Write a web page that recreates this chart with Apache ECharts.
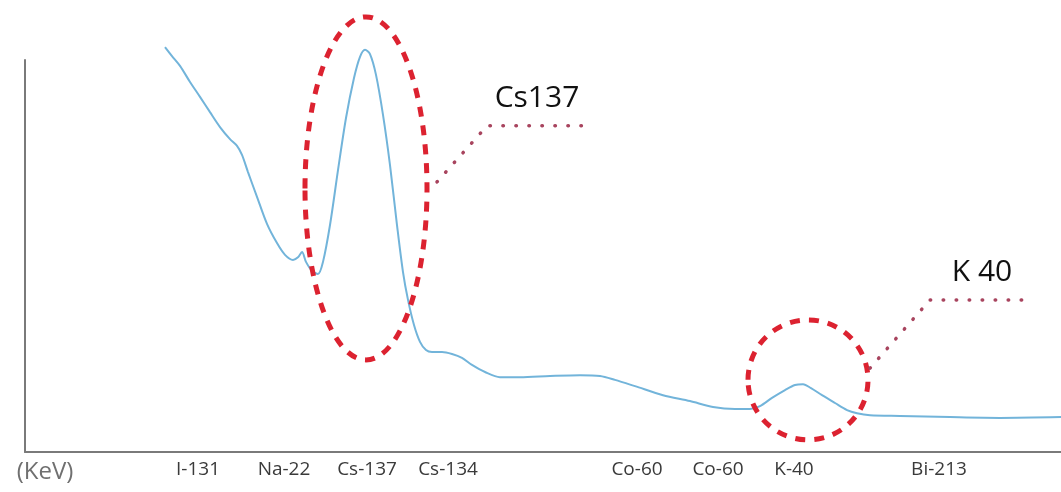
<!DOCTYPE html>
<html>
<head>
<meta charset="utf-8">
<style>
  html, body { margin: 0; padding: 0; background: #fff; }
  #chart { width: 1061px; height: 492px; }
</style>
<script src="https://cdn.jsdelivr.net/npm/echarts@6/dist/echarts.min.js"></script>
</head>
<body>
<div id="chart"></div>
<script>
// Gamma spectrum: detector channel vs. counts
const channels = [140, 147, 155, 165, 175, 185, 195, 205, 212, 217, 223, 232, 242, 252, 260, 268, 273, 277, 281, 287, 293, 298, 305, 313, 321, 329, 335, 340, 345, 351, 358, 365, 372, 378, 383, 389, 395, 401, 407, 417, 427, 437, 447, 460, 475, 495, 525, 555, 575, 590, 610, 638, 665, 688, 710, 725, 735, 747, 760, 770, 778, 786, 797, 810, 822, 832, 845, 875, 925, 975, 1036];
const counts = [1033, 1010, 985, 944, 906, 867, 829, 798, 781, 758, 714, 651, 582, 533, 503, 490, 497, 510, 485, 462, 454, 485, 579, 719, 852, 954, 1008, 1026, 1015, 962, 860, 732, 579, 459, 388, 324, 281, 260, 255, 255, 250, 240, 222, 204, 191, 191, 194, 196, 194, 184, 168, 145, 130, 115, 110, 110, 117, 138, 158, 171, 173, 163, 145, 125, 107, 99, 94, 92, 89, 87, 89];

// Nuclide markers along the energy axis
const tickChannels = [20, 173, 259, 342, 423, 612, 693, 769, 914];
const tickLabels = ['(KeV)', 'I-131', 'Na-22', 'Cs-137', 'Cs-134', 'Co-60', 'Co-60', 'K-40', 'Bi-213'];

// Highlighted peaks: [chMin, chMax, countMin, countMax]
const cs137Region = [280, 402, 235, 1110];
const cs137Leader = [[412, 689], [462, 832], [568, 832]];
const cs137Text = [512, 903];
const cs137Name = 'Cs137';

const k40Region = [723, 843, 31, 337];
const k40Leader = [[845, 214], [905, 388], [1008, 388]];
const k40Text = [957, 457];
const k40Name = 'K 40';

const chart = echarts.init(document.getElementById('chart'));

const lineData = channels.map((c, i) => [c, counts[i]]);

chart.setOption({
  animation: false,
  backgroundColor: '#ffffff',
  grid: { left: 25, right: 0, top: 60, bottom: 40 },
  xAxis: {
    type: 'value',
    min: 0,
    max: 1036,
    axisLine: { show: true, lineStyle: { color: '#7a7a7a', width: 2 } },
    axisTick: { show: false },
    splitLine: { show: false },
    axisLabel: {
      customValues: tickChannels,
      margin: 8,
      color: '#3a3a3a',
      fontFamily: 'Open Sans',
      fontSize: 19,
      formatter: function (v) {
        const i = tickChannels.indexOf(v);
        const t = i >= 0 ? tickLabels[i] : '';
        return i === 0 ? '{unit|' + t + '}' : t;
      },
      rich: {
        unit: { fontSize: 24, color: '#707070', fontFamily: 'Open Sans' }
      }
    }
  },
  yAxis: {
    type: 'value',
    min: 0,
    max: 1000,
    axisLine: { show: true, lineStyle: { color: '#7a7a7a', width: 2 } },
    axisTick: { show: false },
    axisLabel: { show: false },
    splitLine: { show: false }
  },
  series: [{
    type: 'line',
    data: lineData,
    smooth: 0.3,
    clip: false,
    showSymbol: false,
    lineStyle: { color: '#72b4da', width: 2 }
  }]
});

function px(p) { return chart.convertToPixel({ gridIndex: 0 }, p); }

function regionEllipse(r) {
  const a = px([r[0], r[2]]);
  const b = px([r[1], r[3]]);
  return {
    type: 'ellipse',
    shape: { cx: (a[0] + b[0]) / 2, cy: (a[1] + b[1]) / 2, rx: Math.abs(b[0] - a[0]) / 2, ry: Math.abs(b[1] - a[1]) / 2 },
    style: { fill: null, stroke: '#dc2230', lineWidth: 5, lineDash: [10, 9] },
    z: 10
  };
}
function leader(pts) {
  return {
    type: 'polyline',
    shape: { points: pts.map(px) },
    style: { fill: null, stroke: '#a8445e', lineWidth: 3.5, lineDash: [0.5, 12.5], lineCap: 'round' },
    z: 10
  };
}
function label(p, text) {
  const q = px(p);
  return {
    type: 'text',
    x: q[0], y: q[1],
    style: { text: text, fill: '#111', font: '30px "Open Sans"', align: 'center', verticalAlign: 'middle' },
    z: 11
  };
}

chart.setOption({
  graphic: [
    regionEllipse(cs137Region), leader(cs137Leader), label(cs137Text, cs137Name),
    regionEllipse(k40Region), leader(k40Leader), label(k40Text, k40Name)
  ]
});
</script>
</body>
</html>
